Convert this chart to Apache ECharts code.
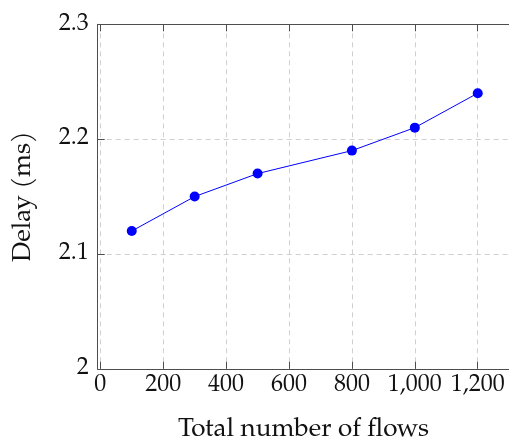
<!DOCTYPE html>
<html><head><meta charset="utf-8">
<script src="https://cdn.jsdelivr.net/npm/echarts@6/dist/echarts.min.js"></script>
<style>html,body{margin:0;padding:0;background:#fff}#c{width:509px;height:439px}</style>
</head><body><div id="c"></div>
<script>
const flows = [100, 300, 500, 800, 1000, 1200];
const delay = [2.12, 2.15, 2.17, 2.19, 2.21, 2.24];
const xTicks = [0, 200, 400, 600, 800, 1000, 1200];
const yTicks = [2, 2.1, 2.2, 2.3];

const font = 'TeX Gyre Pagella, Palatino Linotype, "DejaVu Serif", serif';
const axisColor = '#4d4d4d';
const gridStyle = {color: '#d0d0d0', width: 1, type: [5, 4]};
const chart = echarts.init(document.getElementById('c'), null, {renderer: 'canvas'});
const xFmt = v => v >= 1000 ? Math.floor(v/1000) + ',' + String(v%1000).padStart(3,'0') : String(v);
chart.setOption({
  animation: false,
  grid: {left: 97.7, top: 24.3, width: 411.5, height: 344.5, containLabel: false, outerBoundsMode: 'none'},
  xAxis: [{
    type: 'value', min: -8.3, max: 1300, position: 'bottom',
    axisLine: {show: true, onZero: false, lineStyle: {color: axisColor, width: 1}},
    axisTick: {show: true, inside: true, length: 7, customValues: xTicks, lineStyle: {color: axisColor}},
    axisLabel: {show: true, customValues: xTicks, formatter: xFmt, fontFamily: font, fontSize: 24, color: '#111', margin: 5},
    splitLine: {show: true, customValues: xTicks, lineStyle: gridStyle},
    name: 'Total number of flows', nameLocation: 'middle', nameGap: 48,
    nameTextStyle: {fontFamily: font, fontSize: 26, color: '#111'}
  }, {
    type: 'value', min: -8.3, max: 1300, position: 'top',
    axisLine: {show: true, onZero: false, lineStyle: {color: axisColor, width: 1}},
    axisTick: {show: true, inside: true, length: 7, customValues: xTicks, lineStyle: {color: axisColor}},
    axisLabel: {show: false}, splitLine: {show: false}
  }],
  yAxis: [{
    type: 'value', min: 2, max: 2.3, interval: 0.1,
    axisLine: {show: true, onZero: false, lineStyle: {color: axisColor, width: 1}},
    axisTick: {show: true, inside: true, length: 7, lineStyle: {color: axisColor}},
    axisLabel: {fontFamily: font, fontSize: 24, color: '#111', margin: 9,
      formatter: v => String(Math.round(v*10)/10)},
    splitLine: {show: true, lineStyle: gridStyle},
    name: 'Delay (ms)', nameLocation: 'middle', nameGap: 60, nameRotate: 90,
    nameTextStyle: {fontFamily: font, fontSize: 26, color: '#111'}
  }],
  series: [{
    type: 'line', data: flows.map((f, i) => [f, delay[i]]),
    xAxisIndex: 0, yAxisIndex: 0,
    symbol: 'circle', symbolSize: 10,
    lineStyle: {color: '#0000ff', width: 1},
    itemStyle: {color: '#0000ff'}
  }]
});
</script></body></html>
